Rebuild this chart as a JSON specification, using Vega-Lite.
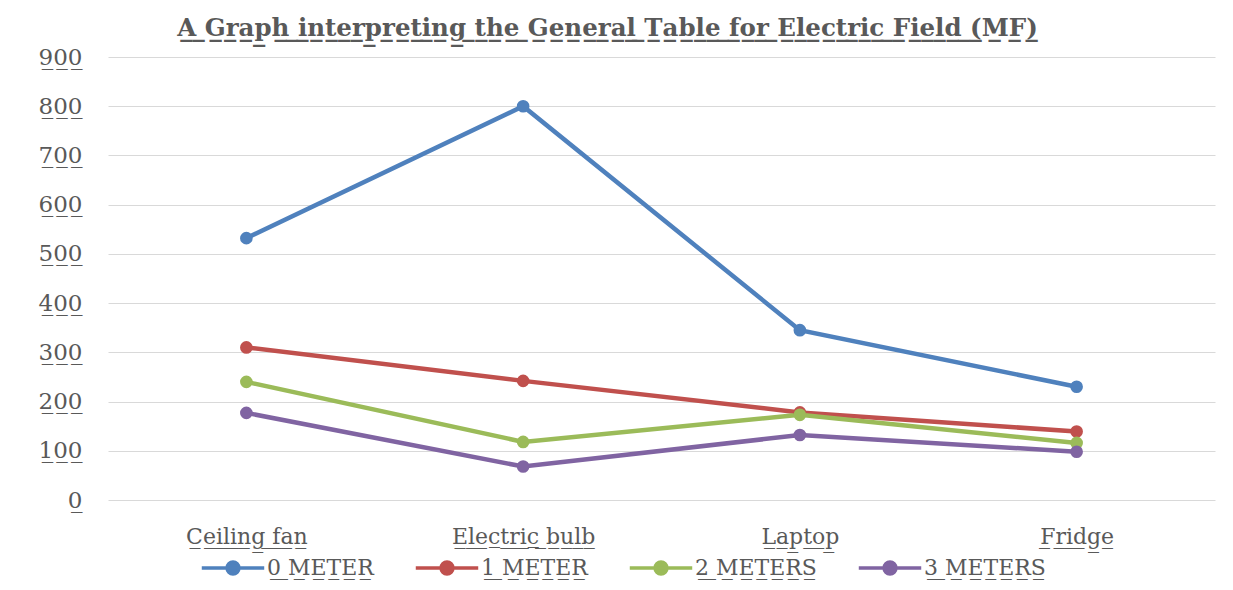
{
  "$schema": "https://vega.github.io/schema/vega-lite/v6.json",
  "width": 1107,
  "height": 443,
  "autosize": {"type": "none"},
  "padding": {"left": 108, "top": 57, "right": 18, "bottom": 90},
  "background": "white",
  "config": {"view": {"stroke": null}},
  "title": {
    "text": {"expr": "replace('A Graph interpreting the General Table for Electric Field (MF)', regexp('.', 'g'), '$&\u0332')"},
    "font": "DejaVu Serif",
    "fontSize": 24.5,
    "fontWeight": "bold",
    "color": "#595959",
    "anchor": "middle",
    "offset": 5,
    "dx": -54
  },
  "data": {
    "values": [
      {"device": "Ceiling fan", "distance": "0 METER", "value": 532},
      {"device": "Electric bulb", "distance": "0 METER", "value": 800},
      {"device": "Laptop", "distance": "0 METER", "value": 345},
      {"device": "Fridge", "distance": "0 METER", "value": 230},
      {"device": "Ceiling fan", "distance": "1 METER", "value": 310},
      {"device": "Electric bulb", "distance": "1 METER", "value": 242},
      {"device": "Laptop", "distance": "1 METER", "value": 178},
      {"device": "Fridge", "distance": "1 METER", "value": 139},
      {"device": "Ceiling fan", "distance": "2 METERS", "value": 240},
      {"device": "Electric bulb", "distance": "2 METERS", "value": 118},
      {"device": "Laptop", "distance": "2 METERS", "value": 173},
      {"device": "Fridge", "distance": "2 METERS", "value": 116},
      {"device": "Ceiling fan", "distance": "3 METERS", "value": 177},
      {"device": "Electric bulb", "distance": "3 METERS", "value": 68},
      {"device": "Laptop", "distance": "3 METERS", "value": 132},
      {"device": "Fridge", "distance": "3 METERS", "value": 98}
    ]
  },
  "encoding": {
    "x": {
      "field": "device",
      "type": "nominal",
      "sort": ["Ceiling fan", "Electric bulb", "Laptop", "Fridge"],
      "scale": {"type": "point", "padding": 0.5},
      "axis": {
        "title": null,
        "domain": false,
        "ticks": false,
        "grid": false,
        "labelAngle": 0,
        "labelFont": "DejaVu Serif",
        "labelFontSize": 22,
        "labelColor": "#595959",
        "labelPadding": 26,
        "labelExpr": "replace(datum.label, regexp('.', 'g'), '$&\u0332')"
      }
    },
    "y": {
      "field": "value",
      "type": "quantitative",
      "scale": {"domain": [0, 900], "nice": false},
      "axis": {
        "title": null,
        "domain": false,
        "ticks": false,
        "grid": true,
        "gridColor": "#d9d9d9",
        "gridWidth": 1.2,
        "values": [0, 100, 200, 300, 400, 500, 600, 700, 800, 900],
        "labelFont": "DejaVu Serif",
        "labelFontSize": 23,
        "labelColor": "#595959",
        "labelPadding": 26,
        "labelExpr": "replace(datum.label, regexp('.', 'g'), '$&\u0332')"
      }
    },
    "color": {
      "field": "distance",
      "type": "nominal",
      "scale": {
        "domain": ["0 METER", "1 METER", "2 METERS", "3 METERS"],
        "range": ["#4F81BD", "#C0504D", "#9BBB59", "#8064A2"]
      },
      "legend": {
        "title": null,
        "orient": "none",
        "legendX": 92,
        "legendY": 478,
        "direction": "horizontal",
        "gridAlign": "none",
        "columnPadding": 34,
        "symbolType": "M-1,0H1M0.19,0A0.19,0.19,0,1,1,-0.19,0A0.19,0.19,0,1,1,0.19,0Z",
        "symbolSize": 3900,
        "symbolStrokeWidth": 3.5,
        "labelFont": "DejaVu Serif",
        "labelFontSize": 22,
        "labelColor": "#595959",
        "labelOffset": 1,
        "labelExpr": "replace(datum.label, regexp('.', 'g'), '$&\u0332')",
        "encode": {
          "symbols": {
            "update": {
              "stroke": {"scale": "color", "field": "value"},
              "fill": {"scale": "color", "field": "value"},
              "strokeWidth": {"value": 3.5},
              "opacity": {"value": 1}
            }
          }
        }
      }
    }
  },
  "layer": [
    {"mark": {"type": "line", "strokeWidth": 4.5}},
    {"mark": {"type": "point", "filled": true, "size": 160, "opacity": 1}}
  ]
}
